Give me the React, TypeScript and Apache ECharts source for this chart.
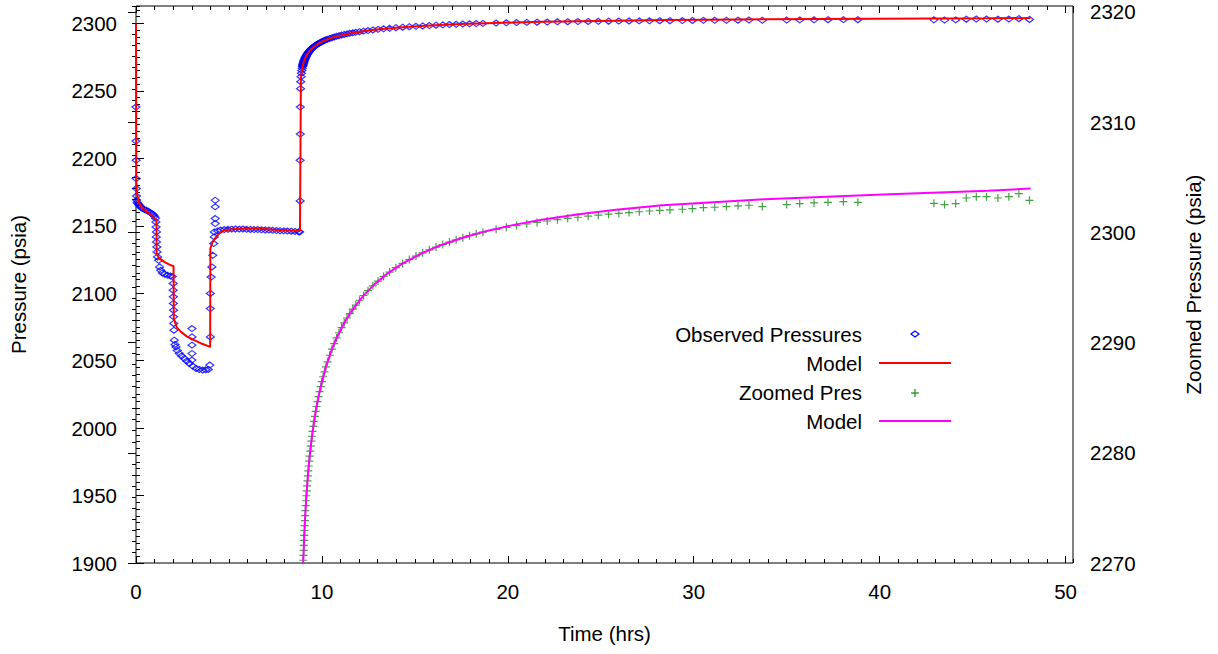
import React, { useEffect, useRef } from "react";
import * as echarts from "echarts";

const FONT = '"Liberation Sans", Arial, Helvetica, sans-serif';
const FS = 20.5;

// Axis ranges
const X_MIN = 0;
const X_MAX = 50.4;
const LEFT_MIN = 1900;
const LEFT_MAX = 2312.9;
const RIGHT_MIN = 2270;
const RIGHT_MAX = 2320.54;

// Observed pressures during the flow periods (hrs, psia)
const observedDrawdown: number[][] = [
  [0.0, 2238.0], [0.0, 2212.8], [0.01, 2198.5], [0.01, 2185.0], [0.02, 2177.6],
  [0.03, 2172.0], [0.04, 2169.0], [0.06, 2167.5], [0.1, 2166.5], [0.15, 2165.5],
  [0.2, 2164.8], [0.27, 2163.5], [0.35, 2162.7], [0.45, 2162.0], [0.55, 2161.5],
  [0.65, 2160.8], [0.75, 2160.0], [0.85, 2159.0], [0.93, 2158.2], [1.0, 2157.0],
  [1.05, 2155.5], [1.07, 2152.8], [1.08, 2149.1], [1.1, 2145.4], [1.09, 2141.7],
  [1.1, 2138.0], [1.12, 2134.3], [1.13, 2130.6], [1.16, 2126.9], [1.22, 2124.4],
  [1.27, 2119.5], [1.33, 2117.0], [1.42, 2115.0], [1.55, 2114.1], [1.7, 2113.3],
  [1.85, 2112.8], [1.95, 2112.3], [2.0, 2107.2], [2.0, 2102.2], [2.01, 2097.3],
  [2.01, 2092.4], [2.02, 2087.4], [2.02, 2082.5], [2.03, 2077.6], [2.04, 2072.6],
  [2.06, 2065.2], [2.1, 2062.0], [2.15, 2060.2], [2.22, 2057.5], [2.33, 2055.3],
  [2.45, 2053.5], [2.6, 2051.6], [2.73, 2049.8], [2.87, 2047.9], [3.05, 2046.0],
  [3.23, 2044.2], [3.4, 2043.5], [3.59, 2043.0], [3.75, 2043.2], [3.89, 2043.5],
  [3.01, 2073.8], [3.01, 2067.6], [3.01, 2061.5], [3.01, 2055.3], [3.01, 2050.4],
  [3.97, 2046.7], [4.0, 2067.6], [4.0, 2088.6], [4.0, 2099.8], [4.04, 2112.0],
  [4.08, 2119.5], [4.13, 2128.1], [4.18, 2136.8], [4.21, 2141.7], [4.21, 2145.4],
  [4.26, 2168.9], [4.26, 2164.0], [4.26, 2155.3], [4.26, 2151.6],
  [4.39, 2146.2], [4.55, 2146.8], [4.75, 2147.2], [4.95, 2147.4], [5.15, 2147.5],
  [5.35, 2147.6], [5.55, 2147.5], [5.75, 2147.6], [5.95, 2147.4], [6.15, 2147.3],
  [6.35, 2147.2], [6.55, 2147.2], [6.75, 2147.0], [6.95, 2146.9], [7.15, 2146.8],
  [7.35, 2146.6], [7.55, 2146.4], [7.75, 2146.3], [7.95, 2146.2], [8.15, 2146.1],
  [8.35, 2146.0], [8.55, 2145.8], [8.75, 2145.6], [8.8, 2145.4],
];

// Observed pressures during the build-up (hrs, psia); also plotted zoomed
const observedBuildup: number[][] = [
  [8.83, 2168.4], [8.83, 2198.5], [8.84, 2218.0], [8.84, 2238.0], [8.85, 2251.6],
  [8.86, 2256.8], [8.88, 2260.5], [8.9, 2263.1], [8.92, 2265.1], [8.94, 2266.7],
  [8.958, 2268.0], [8.965, 2268.45], [8.973, 2268.9], [8.981, 2269.35], [8.989, 2269.8],
  [8.998, 2270.25], [9.007, 2270.7], [9.017, 2271.15], [9.027, 2271.6], [9.038, 2272.05],
  [9.049, 2272.5], [9.061, 2272.95], [9.074, 2273.4], [9.087, 2273.85], [9.101, 2274.3],
  [9.116, 2274.75], [9.131, 2275.2], [9.148, 2275.65], [9.165, 2276.1], [9.184, 2276.55],
  [9.203, 2277.0], [9.223, 2277.45], [9.245, 2277.9], [9.267, 2278.35], [9.291, 2278.8],
  [9.317, 2279.25], [9.344, 2279.7], [9.372, 2280.15], [9.401, 2280.6], [9.433, 2281.05],
  [9.467, 2281.5], [9.502, 2281.95], [9.54, 2282.4], [9.58, 2282.85], [9.622, 2283.3],
  [9.666, 2283.75], [9.714, 2284.2], [9.764, 2284.65], [9.818, 2285.1], [9.874, 2285.55],
  [9.935, 2286.0], [9.999, 2286.45], [10.067, 2286.9], [10.14, 2287.35], [10.218, 2287.8],
  [10.301, 2288.25], [10.42, 2288.85], [10.54, 2289.4], [10.66, 2289.91], [10.79, 2290.42],
  [10.92, 2290.89], [11.06, 2291.36], [11.2, 2291.79], [11.35, 2292.23], [11.5, 2292.63],
  [11.66, 2293.03], [11.82, 2293.4], [12.02, 2293.84], [12.24, 2294.27], [12.48, 2294.71],
  [12.74, 2295.15], [13.02, 2295.58], [13.32, 2296.0], [13.64, 2296.4], [13.98, 2296.8],
  [14.34, 2297.18], [14.7, 2297.53], [15.06, 2297.85], [15.42, 2298.14], [15.78, 2298.42],
  [16.14, 2298.67], [16.5, 2298.9], [16.86, 2299.12], [17.22, 2299.33], [17.58, 2299.52],
  [17.94, 2299.7], [18.3, 2299.87], [18.66, 2300.02], [19.37, 2300.28], [19.92, 2300.46],
  [20.47, 2300.62], [21.02, 2300.76], [21.57, 2300.9], [22.12, 2301.03], [22.67, 2301.15],
  [23.22, 2301.27], [23.77, 2301.37], [24.32, 2301.47], [24.87, 2301.56], [25.42, 2301.65],
  [25.97, 2301.73], [26.52, 2301.8], [27.07, 2301.87], [27.62, 2301.94], [28.17, 2301.99],
  [28.72, 2302.04], [29.39, 2302.1], [29.93, 2302.16], [30.52, 2302.25], [31.13, 2302.28],
  [31.76, 2302.34], [32.38, 2302.41], [32.97, 2302.46], [33.69, 2302.34], [35.0, 2302.52],
  [35.7, 2302.61], [36.47, 2302.67], [37.22, 2302.73], [38.05, 2302.79], [38.83, 2302.73],
  [42.92, 2302.64], [43.49, 2302.52], [44.09, 2302.61], [44.66, 2303.12], [45.2, 2303.24],
  [45.75, 2303.24], [46.36, 2303.12], [46.95, 2303.24], [47.49, 2303.51], [48.06, 2302.91],
];

// Model during the flow periods
const modelDrawdown: number[][] = [
  [0.0, 2300.0], [0.02, 2182.0], [0.06, 2174.0], [0.12, 2169.0], [0.2, 2166.0],
  [0.35, 2163.0], [0.6, 2160.3], [0.85, 2157.5], [1.1, 2154.2], [1.11, 2129.4],
  [1.25, 2125.8], [1.52, 2123.2], [1.8, 2121.2], [2.02, 2120.0], [2.03, 2081.3],
  [2.2, 2074.5], [2.42, 2071.3], [2.75, 2067.8], [3.13, 2065.2], [3.55, 2062.5],
  [3.99, 2060.2], [4.0, 2133.1], [4.12, 2138.0], [4.3, 2141.7], [4.5, 2144.5],
  [4.75, 2146.7], [5.3, 2147.6], [6.36, 2148.0], [7.5, 2147.0], [8.82, 2146.2],
];

// Model during the build-up; also plotted zoomed
const modelBuildup: number[][] = [
  [8.87, 2258.87], [8.89, 2261.9], [8.91, 2264.16], [8.93, 2265.96], [8.95, 2267.46],
  [8.97, 2268.74], [9.0, 2270.36], [9.03, 2271.73], [9.07, 2273.27], [9.12, 2274.87],
  [9.17, 2276.22], [9.24, 2277.8], [9.32, 2279.31], [9.42, 2280.86], [9.52, 2282.17],
  [9.67, 2283.79], [9.82, 2285.12], [10.02, 2286.59], [10.22, 2287.81], [10.52, 2289.31],
  [10.82, 2290.53], [11.22, 2291.85], [11.62, 2292.93], [12.22, 2294.24], [12.82, 2295.28],
  [13.52, 2296.26], [14.32, 2297.16], [15.32, 2298.06], [16.32, 2298.79], [17.52, 2299.49],
  [18.82, 2300.11], [20.32, 2300.68], [21.82, 2301.14], [23.82, 2301.65], [25.82, 2302.05],
  [28.32, 2302.46], [30.82, 2302.72], [33.82, 2303.0], [36.82, 2303.22], [39.82, 2303.42],
  [42.82, 2303.6], [45.82, 2303.78], [48.12, 2303.98],
];

const observedAll = observedDrawdown.concat(observedBuildup);
const modelAll = modelDrawdown.concat(modelBuildup);

const BLACK = "#000000";
const BLUE = "#0000ff";
const RED = "#ff0000";
const GREEN = "#138a13";
const MAGENTA = "#ff00ff";

const plain = (v: number) => String(v);

function tickAxis(extra: any) {
  return {
    type: "value",
    axisLine: { show: false },
    splitLine: { show: false },
    axisLabel: { show: false },
    axisTick: { show: true, inside: true, length: 4, lineStyle: { color: BLACK, width: 1 } },
    ...extra,
  };
}

export default function App() {
  const ref = useRef<HTMLDivElement>(null);

  useEffect(() => {
    if (!ref.current) return;
    const chart = echarts.init(ref.current, undefined, { renderer: "svg" });
    const labelStyle = { fontSize: FS, fontFamily: FONT, color: BLACK };
    const legendText = (text: string, y: number) => ({
      type: "text",
      silent: true,
      style: { text, x: 862, y, align: "right", verticalAlign: "middle", fontSize: FS, fontFamily: FONT, fill: BLACK },
    });
    chart.setOption({
      animation: false,
      backgroundColor: "#ffffff",
      grid: {
        left: 135,
        right: 145,
        top: 6,
        bottom: 91,
        show: true,
        borderColor: BLACK,
        borderWidth: 1,
        backgroundColor: "transparent",
      },
      xAxis: [
        {
          type: "value",
          position: "bottom",
          min: X_MIN,
          max: X_MAX,
          interval: 10,
          name: "Time (hrs)",
          nameLocation: "middle",
          nameGap: 60,
          nameTextStyle: labelStyle,
          axisLine: { show: false },
          splitLine: { show: false },
          axisTick: { show: true, inside: true, length: 7, lineStyle: { color: BLACK } },
          axisLabel: { ...labelStyle, margin: 18, showMaxLabel: false, formatter: plain },
        },
        tickAxis({ position: "bottom", min: X_MIN, max: X_MAX, interval: 1 }),
        tickAxis({
          position: "top",
          min: X_MIN,
          max: X_MAX,
          interval: 10,
          axisTick: { show: true, inside: true, length: 7, lineStyle: { color: BLACK } },
        }),
        tickAxis({ position: "top", min: X_MIN, max: X_MAX, interval: 1 }),
      ],
      yAxis: [
        {
          type: "value",
          position: "left",
          min: LEFT_MIN,
          max: LEFT_MAX,
          interval: 50,
          name: "Pressure (psia)",
          nameLocation: "middle",
          nameRotate: 90,
          nameGap: 107,
          nameTextStyle: labelStyle,
          axisLine: { show: false },
          splitLine: { show: false },
          axisTick: { show: true, inside: true, length: 8, lineStyle: { color: BLACK } },
          axisLabel: { ...labelStyle, margin: 19, showMaxLabel: false, formatter: plain },
        },
        {
          type: "value",
          position: "right",
          min: RIGHT_MIN,
          max: RIGHT_MAX,
          interval: 10,
          name: "Zoomed Pressure (psia)",
          nameLocation: "middle",
          nameRotate: 90,
          nameGap: 110,
          nameTextStyle: labelStyle,
          axisLine: { show: false },
          splitLine: { show: false },
          axisTick: { show: true, inside: true, length: 8, lineStyle: { color: BLACK } },
          axisLabel: { ...labelStyle, margin: 17, showMaxLabel: false, formatter: plain },
        },
        tickAxis({ position: "left", min: LEFT_MIN, max: LEFT_MAX, interval: 5 }),
        tickAxis({ position: "right", min: RIGHT_MIN, max: RIGHT_MAX, interval: 1 }),
      ],
      series: [
        {
          type: "scatter",
          name: "Observed Pressures",
          xAxisIndex: 0,
          yAxisIndex: 0,
          data: observedAll,
          symbol: "diamond",
          symbolSize: [8, 6],
          clip: true,
          silent: true,
          itemStyle: { color: "rgba(0,0,0,0)", borderColor: BLUE, borderWidth: 1.2 },
        },
        {
          type: "line",
          name: "Model",
          xAxisIndex: 0,
          yAxisIndex: 0,
          data: modelAll,
          symbol: "none",
          showSymbol: false,
          clip: true,
          silent: true,
          lineStyle: { color: RED, width: 2 },
        },
        {
          type: "scatter",
          name: "Zoomed Pres",
          xAxisIndex: 0,
          yAxisIndex: 1,
          data: observedBuildup,
          symbol: "path://M0,3.4H8V4.6H0Z M3.4,0H4.6V8H3.4Z",
          symbolSize: 8,
          clip: true,
          silent: true,
          itemStyle: { color: GREEN },
        },
        {
          type: "line",
          name: "Model ",
          xAxisIndex: 0,
          yAxisIndex: 1,
          data: modelBuildup,
          symbol: "none",
          showSymbol: false,
          clip: true,
          silent: true,
          lineStyle: { color: MAGENTA, width: 2 },
        },
      ],
      graphic: [
        legendText("Observed Pressures", 334),
        legendText("Model", 363),
        legendText("Zoomed Pres", 392.5),
        legendText("Model", 421),
        {
          type: "polygon",
          silent: true,
          shape: { points: [[911, 334], [915, 331], [919, 334], [915, 337]] },
          style: { fill: "none", stroke: BLUE, lineWidth: 1.2 },
        },
        {
          type: "line",
          silent: true,
          shape: { x1: 879, y1: 363, x2: 951, y2: 363 },
          style: { stroke: RED, lineWidth: 2 },
        },
        {
          type: "line",
          silent: true,
          shape: { x1: 911, y1: 393, x2: 919, y2: 393 },
          style: { stroke: GREEN, lineWidth: 1.2 },
        },
        {
          type: "line",
          silent: true,
          shape: { x1: 915, y1: 389, x2: 915, y2: 397 },
          style: { stroke: GREEN, lineWidth: 1.2 },
        },
        {
          type: "line",
          silent: true,
          shape: { x1: 879, y1: 421, x2: 951, y2: 421 },
          style: { stroke: MAGENTA, lineWidth: 2 },
        },
      ],
    });
    return () => chart.dispose();
  }, []);

  return (
    <div
      ref={ref}
      style={{ position: "fixed", left: 0, top: 0, width: 1218, height: 654, background: "#fff" }}
    />
  );
}
